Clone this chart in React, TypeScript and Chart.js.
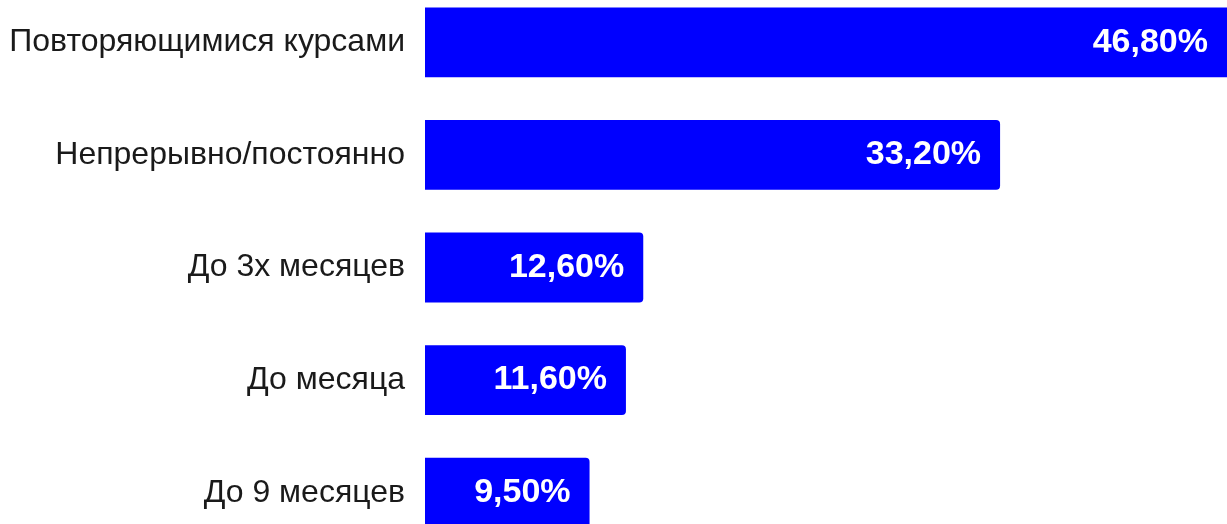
import React, { useEffect, useRef } from "react";
import { Chart, registerables } from "chart.js";

Chart.register(...registerables);

const categories = [
  "Повторяющимися курсами",
  "Непрерывно/постоянно",
  "До 3х месяцев",
  "До месяца",
  "До 9 месяцев",
];
const values = [46.8, 33.2, 12.6, 11.6, 9.5];
const valueLabels = ["46,80%", "33,20%", "12,60%", "11,60%", "9,50%"];

const FONT = "'Liberation Sans', Arial, sans-serif";

const valuePlugin = {
  id: "valueLabels",
  afterDatasetsDraw(chart: any) {
    const ctx = chart.ctx;
    const meta = chart.getDatasetMeta(0);
    const right = chart.chartArea.right;
    ctx.save();
    ctx.fillStyle = "#ffffff";
    ctx.font = `bold 34px ${FONT}`;
    ctx.textAlign = "right";
    ctx.textBaseline = "middle";
    meta.data.forEach((bar: any, i: number) => {
      ctx.fillText(valueLabels[i], Math.min(bar.x, right) - 19, bar.y);
    });
    ctx.restore();
  },
};

export default function App() {
  const ref = useRef<HTMLCanvasElement | null>(null);
  useEffect(() => {
    if (!ref.current) return;
    const chart = new Chart(ref.current, {
      type: "bar",
      data: {
        labels: categories,
        datasets: [
          {
            data: values,
            backgroundColor: "#0000ff",
            borderWidth: 0,
            borderRadius: { topRight: 4, bottomRight: 4, topLeft: 0, bottomLeft: 0 },
            borderSkipped: false,
            barPercentage: 0.62,
            categoryPercentage: 1,
          },
        ],
      },
      options: {
        indexAxis: "y",
        animation: false,
        responsive: true,
        maintainAspectRatio: false,
        layout: { padding: 0 },
        plugins: { legend: { display: false }, tooltip: { enabled: false } },
        scales: {
          x: { display: false, min: 0, max: 46.3 },
          y: {
            grid: { display: false, drawTicks: false },
            border: { display: false },
            ticks: {
              color: "#1a1a1a",
              padding: 20,
              font: { family: FONT, size: 32 },
            },
            afterFit(scale: any) {
              scale.width = 425;
              scale.paddingTop = 0;
              scale.paddingBottom = 0;
            },
          },
        },
      },
      plugins: [valuePlugin],
    } as any);
    return () => chart.destroy();
  }, []);
  return (
    <div style={{ position: "absolute", left: 0, top: -14, width: 1227, height: 563 }}>
      <canvas ref={ref} />
    </div>
  );
}
